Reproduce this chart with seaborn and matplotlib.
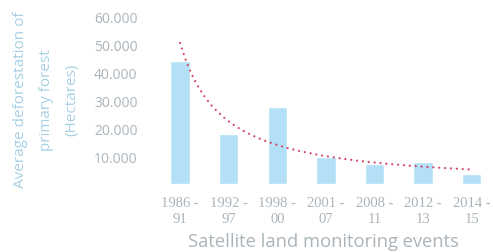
import numpy as np
import pandas as pd
import matplotlib
matplotlib.use('Agg')
import matplotlib.pyplot as plt
import seaborn as sns

# data
periods = ['1986 -\n91', '1992 -\n97', '1998 -\n00', '2001 -\n07',
           '2008 -\n11', '2012 -\n13', '2014 -\n15']
deforestation = [44000, 18000, 27600, 9500, 7000, 7700, 3500]
y_ticks = [0, 10000, 20000, 30000, 40000, 50000, 60000]
y_tick_labels = ['', '10.000', '20.000', '30.000', '40.000', '50.000', '60.000']

BAR = '#b3e0f6'
TREND = '#d2345a'
TICK = '#aab4ba'
YLAB = '#a6d0e4'

sns.set_style('white')
plt.rcParams['font.family'] = ['Open Sans', 'DejaVu Sans']

df = pd.DataFrame({'period': periods, 'value': deforestation})

fig = plt.figure(figsize=(4.93, 2.53), dpi=100)
ax = fig.add_axes([0.316, 0.269, 0.68, 0.672])

sns.barplot(data=df, x='period', y='value', color=BAR, width=0.4,
            saturation=1, ax=ax)

# power trendline fitted to the bars (like a spreadsheet trendline)
xi = np.arange(1, len(deforestation) + 1)
b, loga = np.polyfit(np.log(xi), np.log(deforestation), 1)
xs = np.linspace(1, len(deforestation), 200)
ax.plot(xs - 1, np.exp(loga) * xs ** b, color=TREND, lw=1.6,
        ls=(0, (0.05, 2.6)), dash_capstyle='round', alpha=0.9)

ax.set_xlim(-0.5, 6.4)
ax.set_ylim(0, 61000)
ax.set_yticks(y_ticks)
ax.set_yticklabels(y_tick_labels)
ax.tick_params(axis='y', length=0, pad=13, labelsize=10, labelcolor=TICK)
ax.tick_params(axis='x', length=0, pad=9, labelsize=10.5, labelcolor=TICK)
for lab in ax.get_xticklabels():
    lab.set_family(['Liberation Serif', 'DejaVu Serif'])
    lab.set_linespacing(1.25)
sns.despine(ax=ax, left=True, bottom=True)
ax.set_xlabel('Satellite land monitoring events', fontsize=13.2,
              color=TICK, labelpad=5)
ax.set_ylabel('')

fig.text(0.094, 0.605, 'Average deforestation of\nprimary forest\n(Hectares)',
         rotation=90, ha='center', va='center', multialignment='center',
         fontsize=11, color=YLAB, linespacing=2.0)

fig.savefig('out.png', dpi=100)
